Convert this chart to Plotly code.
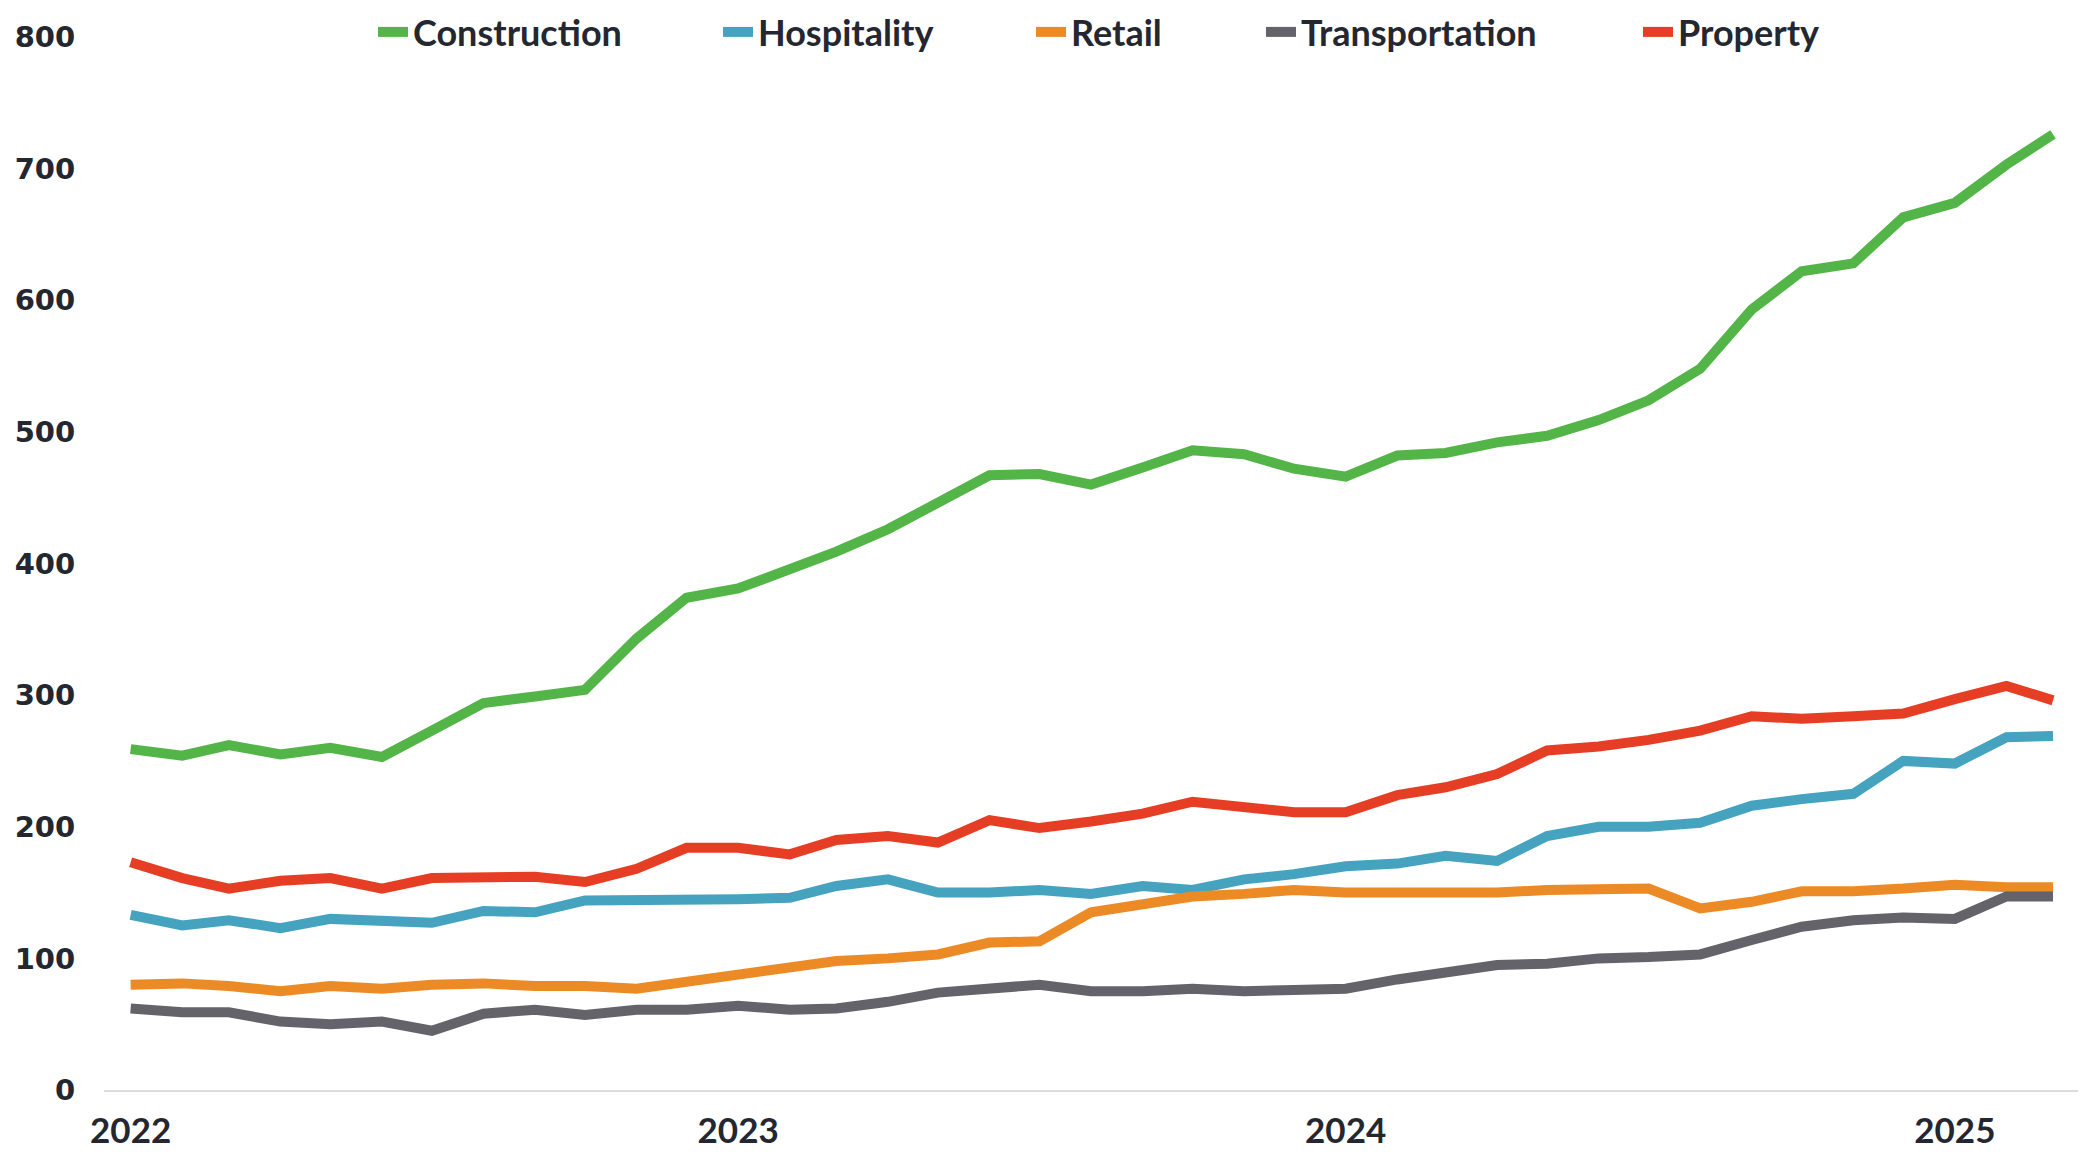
import plotly.graph_objects as go
import pandas as pd

months = pd.date_range("2022-01-01", "2025-03-01", freq="MS")

construction = [259, 254, 262, 255, 260, 253, 273, 294, 299, 304, 343, 374, 381, 395, 409, 426,
                447, 467, 468, 460, 473, 486, 483, 472, 466, 482, 484, 492, 497, 509, 524, 548,
                593, 622, 628, 663, 674, 703, 726]
hospitality = [133, 125, 129, 123, 130, 129, 127, 136, 135, 144, 144, 144, 145, 146, 155, 160,
               150, 150, 152, 149, 155, 152, 160, 164, 170, 172, 178, 174, 193, 200, 200, 203,
               216, 221, 225, 250, 248, 268, 269]
retail = [80, 81, 79, 75, 79, 77, 80, 81, 79, 79, 77, 82, 89, 93, 98, 100, 103, 112, 113, 135,
          142, 147, 149, 152, 150, 150, 150, 150, 152, 153, 153, 138, 143, 151, 151, 153, 156,
          154, 154]
transportation = [62, 59, 59, 52, 50, 52, 45, 58, 61, 57, 61, 61, 64, 61, 62, 67, 74, 77, 80,
                  75, 75, 77, 75, 76, 77, 84, 90, 95, 96, 100, 101, 103, 114, 124, 129, 131, 130,
                  147, 147]
property_ = [173, 161, 153, 159, 161, 153, 161, 161, 162, 158, 168, 184, 184, 179, 190, 193,
             188, 205, 199, 204, 210, 219, 215, 211, 211, 224, 230, 240, 258, 261, 266, 273,
             284, 282, 284, 286, 297, 307, 296]

series_names = ["Construction", "Hospitality", "Retail", "Transportation", "Property"]
series_values = [construction, hospitality, retail, transportation, property_]
series_colors = ["#53b447", "#45a3bf", "#ec8b25", "#636369", "#e63e24"]

year_ticks = ["2022-01-01", "2023-01-01", "2024-01-01", "2025-01-01"]
year_labels = ["2022", "2023", "2024", "2025"]
y_ticks = [0, 100, 200, 300, 400, 500, 600, 700, 800]

W, H = 2094, 1168
ml, mt = 96, 29
plot_w, plot_h = 1974, 1053
mr = W - ml - plot_w
mb = H - mt - plot_h

# left edge (px from figure left) of each legend entry
legend_left_px = [365, 710, 1023, 1253, 1630]
legend_keys = ["legend", "legend2", "legend3", "legend4", "legend5"]

TEXT = "#24272f"

fig = go.Figure()
for name, vals, col, key in zip(series_names, series_values, series_colors, legend_keys):
    fig.add_trace(go.Scatter(
        x=months, y=vals, name=name, mode="lines",
        line=dict(color=col, width=10),
        legend=key,
    ))

legend_layouts = {}
for key, px in zip(legend_keys, legend_left_px):
    legend_layouts[key] = dict(
        x=(px - ml) / plot_w, xanchor="left",
        y=(plot_h + 5) / plot_h, yanchor="middle",
        orientation="h",
        font=dict(family="Lato", size=36, color=TEXT, weight="bold"),
        bgcolor="rgba(0,0,0,0)", borderwidth=0,
    )

fig.update_layout(
    width=W, height=H,
    margin=dict(l=ml, r=mr, t=mt, b=mb, autoexpand=False),
    paper_bgcolor="white", plot_bgcolor="white",
    showlegend=True,
    **legend_layouts,
    xaxis=dict(
        type="date",
        range=["2021-12-16", "2025-03-16"],
        tickvals=year_ticks, ticktext=year_labels,
        showgrid=False, zeroline=False,
        showline=True, linecolor="#dcdcdc", linewidth=2,
        ticks="outside", ticklen=9, tickcolor="rgba(0,0,0,0)",
        tickfont=dict(family="Lato", size=35, color=TEXT, weight="bold"),
    ),
    yaxis=dict(
        range=[0, 800],
        tickvals=y_ticks,
        showgrid=False, zeroline=False, showline=False,
        ticks="outside", ticklen=22, tickcolor="rgba(0,0,0,0)",
        tickfont=dict(family="DejaVu Sans", size=29, color=TEXT, weight="bold"),
    ),
)

fig.write_html("out.html")
